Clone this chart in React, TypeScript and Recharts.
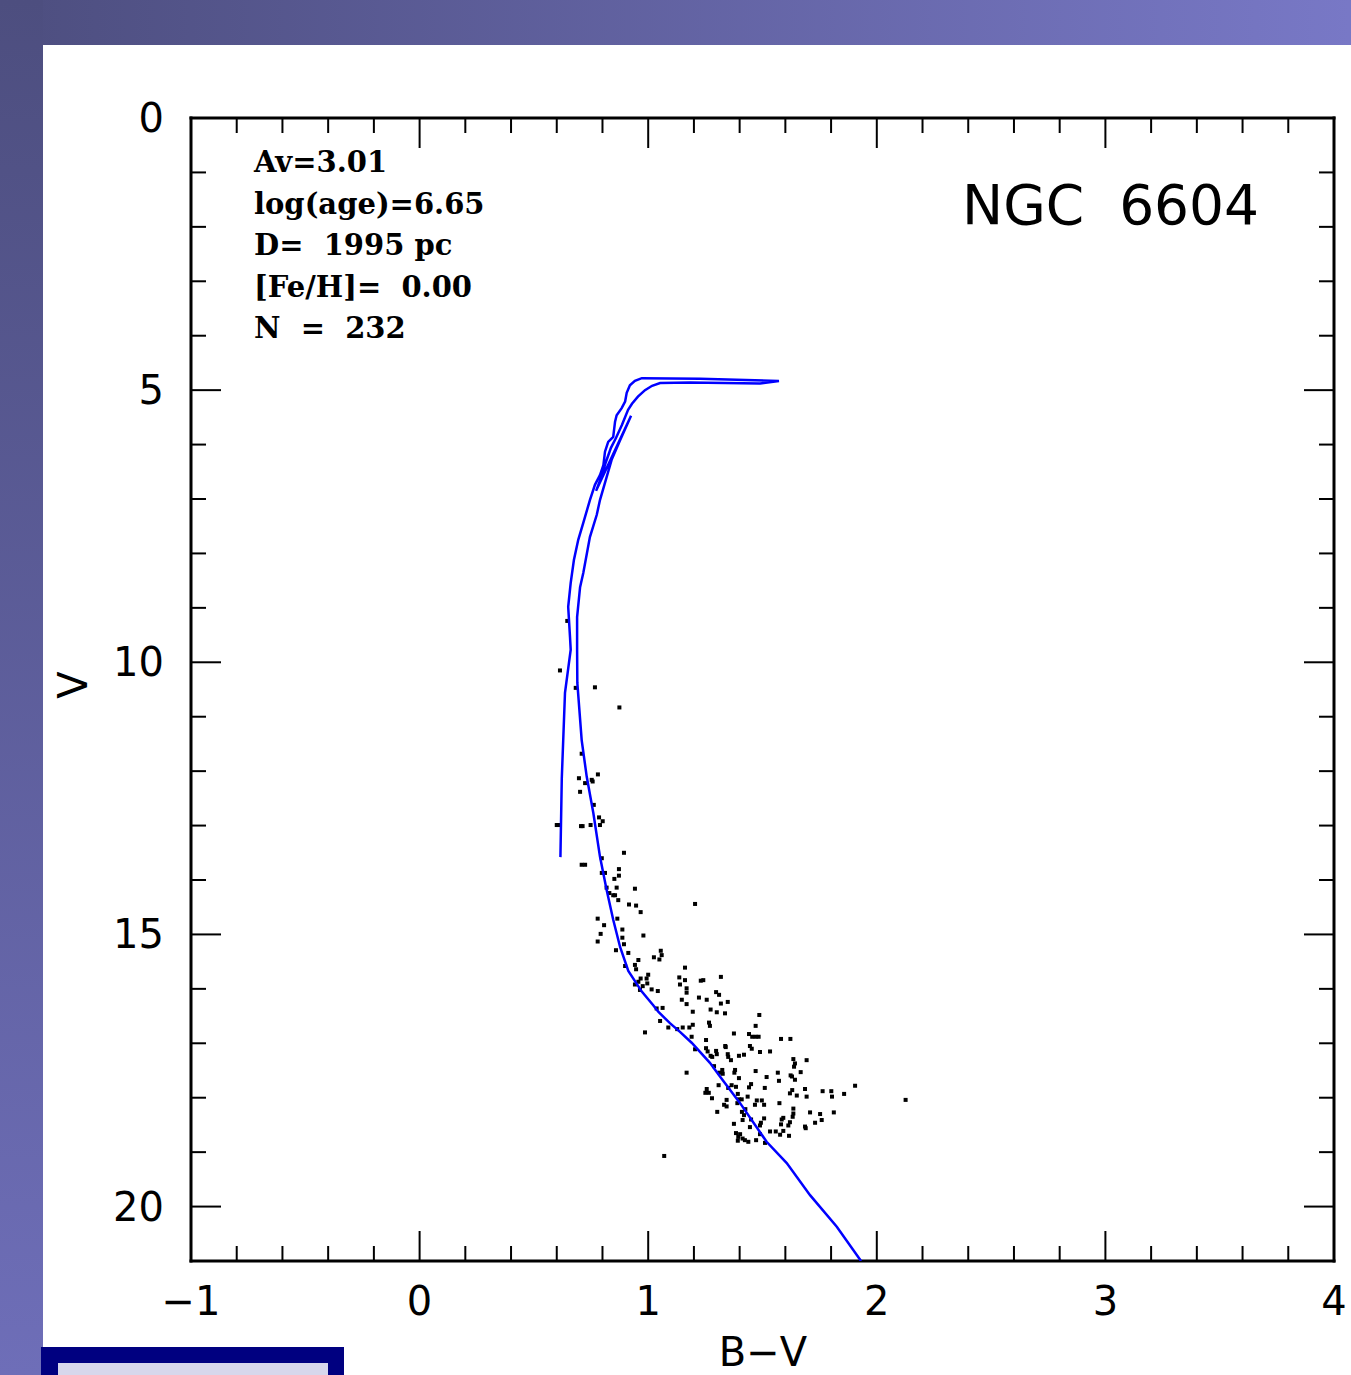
import React from 'react';
import { ScatterChart, Scatter, XAxis, YAxis } from 'recharts';

// Isochrone (B-V, V), in drawing order
const isochroneBV = [
  1.931, 1.825, 1.708, 1.606, 1.518, 1.402, 1.314, 1.270, 1.190, 1.139, 1.095, 1.044, 1.022, 0.972, 0.913, 0.877,
  0.847, 0.818, 0.789, 0.760, 0.731, 0.709, 0.690, 0.689, 0.689, 0.702, 0.716, 0.745, 0.775, 0.789, 0.840, 0.877,
  0.925, 0.772, 0.794, 0.815, 0.837, 0.859, 0.885, 0.912, 0.929, 0.955, 0.986, 1.017, 1.052, 1.183, 1.489, 1.572,
  1.227, 0.972, 0.942, 0.920, 0.906, 0.899, 0.884, 0.862, 0.855, 0.847, 0.825, 0.811, 0.804, 0.789, 0.767, 0.745,
  0.716, 0.694, 0.675, 0.661, 0.650, 0.658, 0.661, 0.636, 0.622, 0.616,
];
const isochroneV = [
  21.0, 20.37, 19.79, 19.2, 18.81, 18.1, 17.61, 17.36, 16.99, 16.79, 16.63, 16.42, 16.3, 16.05, 15.67, 15.23,
  14.73, 14.18, 13.57, 12.77, 12.1, 11.43, 10.38, 9.77, 9.17, 8.62, 8.36, 7.7, 7.29, 7.02, 6.28, 5.92,
  5.47, 6.85, 6.61, 6.32, 6.06, 5.88, 5.64, 5.36, 5.25, 5.12, 5.0, 4.92, 4.87, 4.86, 4.88, 4.83,
  4.79, 4.78, 4.83, 4.91, 5.05, 5.21, 5.33, 5.46, 5.58, 5.86, 5.95, 6.13, 6.38, 6.56, 6.74, 7.02,
  7.44, 7.75, 8.12, 8.54, 8.98, 9.54, 9.77, 10.56, 12.13, 13.58,
];

// Observed stars
const starsBV = [
  0.646, 0.614, 0.683, 0.767, 0.874, 0.709, 0.697, 0.780, 0.724, 0.753, 0.757, 0.702, 0.762, 0.785, 0.801, 0.600,
  0.607, 0.706, 0.713, 0.748, 0.789,
  0.797, 0.894, 0.709, 0.724, 0.797, 0.811, 0.872, 0.872, 0.852, 0.818, 0.862, 0.942, 0.830, 0.847, 0.855, 0.869,
  0.916, 0.947, 1.205, 0.967, 0.779, 0.865, 0.807, 0.887, 0.792, 0.887, 0.979, 0.779, 0.894, 0.859,
  0.913, 1.055, 1.059, 1.025, 1.049, 0.957, 0.942, 0.899, 0.947, 1.161, 0.967, 1.000, 0.993, 1.136, 1.161, 1.139,
  1.230, 1.241, 1.318, 0.957, 0.942, 0.976, 0.996, 0.964, 1.015, 1.042, 1.168, 1.168, 1.297, 1.310, 1.147, 1.222,
  1.256, 1.348, 1.318, 1.168, 1.063, 1.037, 1.273, 1.300, 1.336, 1.195, 1.486, 1.052, 1.266, 1.270, 1.195, 1.470,
  1.088,
  1.127, 1.151, 1.180, 0.986, 1.375, 1.441, 1.455, 1.470, 1.483, 1.190, 1.581, 1.622, 1.253, 1.337, 1.339, 1.445,
  1.453, 1.205, 1.253, 1.260, 1.297, 1.300, 1.273, 1.280, 1.348, 1.350, 1.397, 1.419, 1.489, 1.533, 1.362, 1.635,
  1.642, 1.638, 1.693, 1.288, 1.324, 1.326, 1.311, 1.380, 1.377, 1.470, 1.567, 1.667, 1.168, 1.397, 1.518, 1.623,
  1.629, 1.572,
  1.642, 1.450, 1.441, 1.308, 1.365, 1.384, 1.350, 1.510, 1.630, 1.620, 1.686, 1.693, 1.763, 1.801, 1.804, 1.857,
  1.905, 2.126, 1.650, 1.256, 1.250, 1.265, 1.279, 1.343, 1.392, 1.397, 1.409, 1.435, 1.475, 1.467, 1.497, 1.507,
  1.332, 1.343, 1.390, 1.425, 1.410, 1.419, 1.574, 1.635, 1.635, 1.302, 1.708, 1.752, 1.812, 1.632, 1.591, 1.584,
  1.507, 1.413,
  1.450, 1.759, 1.730, 1.493, 1.489, 1.375, 1.620, 1.613, 1.581, 1.686, 1.689, 1.445, 1.591, 1.558, 1.533, 1.384,
  1.402, 1.394, 1.489, 1.577, 1.616, 1.413, 1.423, 1.438, 1.392, 1.472, 1.511, 1.070,
];
const starsV = [
  9.24, 10.15, 10.47, 10.46, 10.83, 11.68, 12.13, 12.06, 12.22, 12.16, 12.19, 12.38, 12.62, 12.85, 12.92, 12.99,
  12.99, 13.01, 13.01, 12.99, 12.99,
  13.6, 13.5, 13.72, 13.72, 13.87, 13.87, 13.8, 13.92, 13.98, 14.14, 14.14, 14.16, 14.24, 14.28, 14.28, 14.37,
  14.45, 14.47, 14.44, 14.59, 14.71, 14.71, 14.83, 14.91, 14.99, 15.06, 15.02, 15.13, 15.18, 15.29,
  15.34, 15.3, 15.38, 15.42, 15.46, 15.47, 15.56, 15.58, 15.64, 15.61, 15.81, 15.74, 15.81, 15.79, 15.84, 15.92,
  15.85, 15.84, 15.78, 15.87, 15.92, 15.95, 15.9, 16.02, 16.01, 16.04, 15.99, 16.07, 16.06, 16.11, 16.2, 16.16,
  16.2, 16.24, 16.27, 16.28, 16.35, 16.36, 16.38, 16.43, 16.45, 16.42, 16.48, 16.59, 16.62, 16.68, 16.66, 16.68,
  16.71,
  16.74, 16.71, 16.71, 16.8, 16.82, 16.83, 16.88, 16.88, 16.88, 16.88, 16.92, 16.92, 16.94, 17.05, 17.07, 17.05,
  17.1, 17.11, 17.09, 17.15, 17.14, 17.2, 17.23, 17.25, 17.2, 17.25, 17.23, 17.21, 17.16, 17.15, 17.31, 17.29,
  17.37, 17.43, 17.31, 17.42, 17.49, 17.56, 17.54, 17.49, 17.54, 17.51, 17.54, 17.53, 17.54, 17.64, 17.62, 17.59,
  17.61, 17.69,
  17.67, 17.75, 17.81, 17.77, 17.77, 17.8, 17.82, 17.82, 17.86, 17.92, 17.84, 17.98, 17.88, 17.88, 17.98, 17.93,
  17.78, 18.04, 17.96, 17.84, 17.91, 17.91, 18.01, 18.04, 17.93, 18.03, 18.03, 17.98, 18.05, 18.13, 18.05, 18.13,
  18.13, 18.16, 18.1, 18.21, 18.26, 18.32, 18.1, 18.2, 18.29, 18.26, 18.27, 18.3, 18.27, 18.35, 18.37, 18.4,
  18.38, 18.41,
  18.4, 18.41, 18.46, 18.46, 18.51, 18.48, 18.45, 18.51, 18.49, 18.53, 18.56, 18.54, 18.61, 18.62, 18.62, 18.65,
  18.67, 18.72, 18.67, 18.68, 18.7, 18.75, 18.78, 18.81, 18.79, 18.78, 18.83, 19.07,
];

const xDomain = [-1, 4];
const yDomain = [0, 21];
const xTicks = [
  -1, -0.8, -0.6, -0.4, -0.2, 0, 0.2, 0.4, 0.6, 0.8, 1, 1.2, 1.4, 1.6, 1.8, 2, 2.2, 2.4, 2.6, 2.8, 3, 3.2, 3.4,
  3.6, 3.8, 4,
];
const xLabelTicks = [-1, 0, 1, 2, 3, 4];
const yTicks = [0, 1, 2, 3, 4, 5, 6, 7, 8, 9, 10, 11, 12, 13, 14, 15, 16, 17, 18, 19, 20, 21];
const yLabelTicks = [0, 5, 10, 15, 20];

const infoLines = ['Av=3.01', 'log(age)=6.65', 'D=  1995 pc', '[Fe/H]=  0.00', 'N  =  232'];
const clusterName = 'NGC  6604';
const xTitle = 'B\u2212V';
const yTitle = 'V';

const isochrone = isochroneBV.map((bv, i) => ({ bv, v: isochroneV[i] }));
const stars = starsBV.map((bv, i) => ({ bv, v: starsV[i] }));

const TICK_FONT = '"DejaVu Sans", sans-serif';
const MAJOR = 30;
const MINOR = 15;

const near = (list: number[], v: number) => list.some((t) => Math.abs(t - v) < 1e-6);
const fmt = (v: number) => (v < 0 ? '\u2212' + Math.abs(v) : String(v));

const BottomTick = (p: any) => {
  const { x, y, payload } = p;
  const major = near(xLabelTicks, payload.value);
  return (
    <g>
      <line x1={x} x2={x} y1={y} y2={y - (major ? MAJOR : MINOR)} stroke="#000" strokeWidth={2} />
      {major && (
        <text x={x} y={y + 40} textAnchor="middle" dominantBaseline="central" fontSize={40} fontFamily={TICK_FONT} fill="#000">
          {fmt(payload.value)}
        </text>
      )}
    </g>
  );
};
const TopTick = (p: any) => {
  const { x, y, payload } = p;
  const major = near(xLabelTicks, payload.value);
  return <line x1={x} x2={x} y1={y} y2={y + (major ? MAJOR : MINOR)} stroke="#000" strokeWidth={2} />;
};
const LeftTick = (p: any) => {
  const { x, y, payload } = p;
  const major = near(yLabelTicks, payload.value);
  return (
    <g>
      <line x1={x} x2={x + (major ? MAJOR : MINOR)} y1={y} y2={y} stroke="#000" strokeWidth={2} />
      {major && (
        <text x={x - 27} y={y} textAnchor="end" dominantBaseline="central" fontSize={40} fontFamily={TICK_FONT} fill="#000">
          {fmt(payload.value)}
        </text>
      )}
    </g>
  );
};
const RightTick = (p: any) => {
  const { x, y, payload } = p;
  const major = near(yLabelTicks, payload.value);
  return <line x1={x} x2={x - (major ? MAJOR : MINOR)} y1={y} y2={y} stroke="#000" strokeWidth={2} />;
};

const StarShape = (p: any) => <rect x={p.cx - 2} y={p.cy - 2} width={4} height={4} fill="#000" />;
const NoShape = () => <g />;

const frame = { stroke: '#000', strokeWidth: 3, strokeLinecap: 'square' as const };

export default function App() {
  return (
    <div style={{ position: 'absolute', left: 0, top: 0, width: 1351, height: 1375, overflow: 'hidden', background: '#fff' }}>
      <div style={{ position: 'absolute', left: 0, top: 0, width: 1351, height: 45, background: 'linear-gradient(to right, #4d4e7f, #7878c6)' }} />
      <div style={{ position: 'absolute', left: 0, top: 0, width: 43, height: 1375, background: 'linear-gradient(to bottom, #4d4e7f, #6e6eb8)' }} />
      <div style={{ position: 'absolute', left: 41, top: 1347, width: 303, height: 40, background: '#000080' }} />
      <div style={{ position: 'absolute', left: 58, top: 1363, width: 270, height: 20, background: '#d7d7ec' }} />
      <div style={{ position: 'absolute', left: 0, top: 0 }}>
        <ScatterChart width={1351} height={1375} margin={{ top: 117, right: 16, bottom: 113, left: 190 }}>
          <XAxis xAxisId="b" dataKey="bv" type="number" orientation="bottom" domain={xDomain} ticks={xTicks} interval={0}
            height={1} tickSize={0} tickMargin={0} tickLine={false} axisLine={frame} tick={BottomTick} allowDataOverflow />
          <XAxis xAxisId="t" dataKey="bv" type="number" orientation="top" domain={xDomain} ticks={xTicks} interval={0}
            height={1} tickSize={0} tickMargin={0} tickLine={false} axisLine={frame} tick={TopTick} allowDataOverflow />
          <YAxis yAxisId="l" dataKey="v" type="number" orientation="left" domain={yDomain} reversed ticks={yTicks} interval={0}
            width={1} tickSize={0} tickMargin={0} tickLine={false} axisLine={frame} tick={LeftTick} allowDataOverflow />
          <YAxis yAxisId="r" dataKey="v" type="number" orientation="right" domain={yDomain} reversed ticks={yTicks} interval={0}
            width={1} tickSize={0} tickMargin={0} tickLine={false} axisLine={frame} tick={RightTick} allowDataOverflow />
          <Scatter xAxisId="b" yAxisId="l" data={stars} shape={StarShape} fill="#000" isAnimationActive={false} />
          <Scatter xAxisId="t" yAxisId="r" data={isochrone} fill="#0000ff" line={{ stroke: '#0000ff', strokeWidth: 2.5 }}
            lineType="joint" shape={NoShape} isAnimationActive={false} />
        </ScatterChart>
      </div>
      <svg width={1351} height={1375} style={{ position: 'absolute', left: 0, top: 0, pointerEvents: 'none' }}>
        {infoLines.map((t, i) => (
          <text key={t} x={254} y={172 + i * 41.5} fontSize={29} fontWeight="bold" fontFamily='"DejaVu Serif", serif'
            fill="#000" style={{ whiteSpace: 'pre' }}>
            {t}
          </text>
        ))}
        <text x={962} y={224} fontSize={55} fontFamily={TICK_FONT} fill="#000" style={{ whiteSpace: 'pre' }}>
          {clusterName}
        </text>
        <text x={763} y={1366} textAnchor="middle" fontSize={40} fontFamily={TICK_FONT} fill="#000">
          {xTitle}
        </text>
        <text x={87} y={685} textAnchor="middle" fontSize={40} fontFamily={TICK_FONT} fill="#000" transform="rotate(-90 87 685)">
          {yTitle}
        </text>
      </svg>
    </div>
  );
}
